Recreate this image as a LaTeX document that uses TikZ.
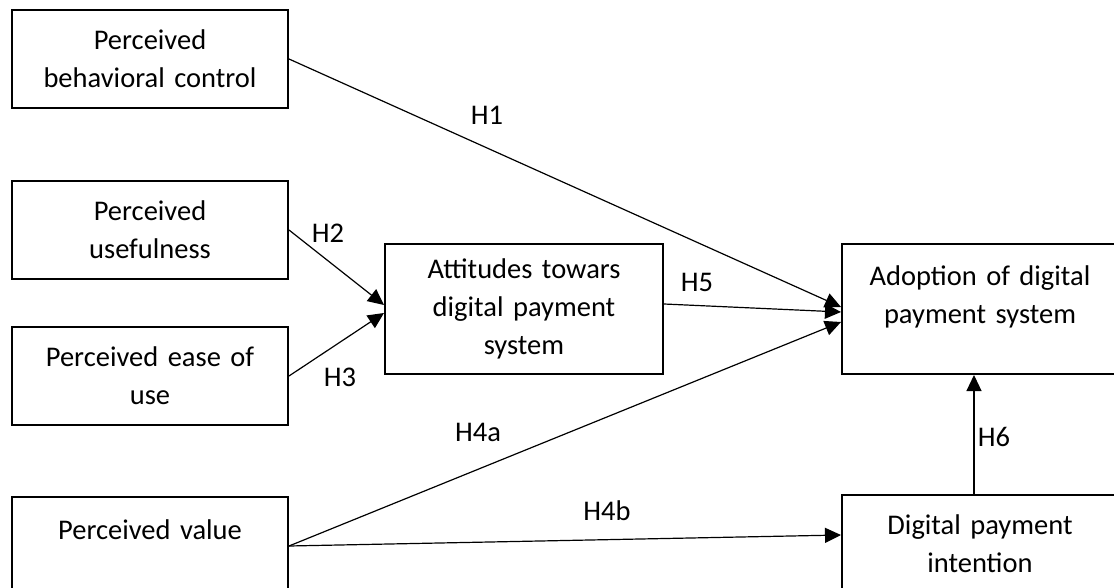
\documentclass[tikz,border=0pt]{standalone}
\usepackage{fontspec}
\setmainfont{Carlito}
\usetikzlibrary{arrows.meta,positioning}
\newcommand{\lowstrut}[1]{\rule[-#1]{0pt}{#1}}
\tikzset{
  varbox/.style={draw, line width=1pt, align=center, text width=130pt,
                 minimum width=138pt, minimum height=49pt, inner sep=0pt,
                 font=\fontsize{14.25}{19}\selectfont},
  bigbox/.style={varbox, minimum width=139pt, minimum height=65pt},
  hyparrow/.style={-{Triangle[length=8pt,width=7.5pt]}, line width=0.6pt},
  hyp/.style={inner sep=0pt, font=\fontsize{14.25}{19}\selectfont}
}

\begin{document}
\begin{tikzpicture}[x=0.5pt, y=-0.5pt]
  \useasboundingbox (0,0) rectangle (1114,588);
  % left column
  \node[varbox, anchor=north west] (pbc) at (11,9) {Perceived\\behavioral control};
  \node[varbox, below=35.5pt of pbc] (pu) {Perceived\\usefulness};
  \node[varbox, below=23pt of pu] (peu) {Perceived ease of\\use};
  \node[varbox, below=35pt of peu] (pv) {Perceived value\lowstrut{16pt}};
  % middle and right
  \node[bigbox, anchor=north west] (att) at (384,243) {Attitudes towars\\digital payment\\system};
  \node[bigbox, minimum width=138pt, right=88.5pt of att] (adopt) {Adoption of digital\\payment system\lowstrut{14.5pt}};
  \node[varbox, below=59.5pt of adopt] (dpi) {Digital payment\\intention};
  % hypotheses
  \draw[hyparrow] (pbc.east) -- ([yshift=1pt]adopt.west);
  \draw[hyparrow] (pu.east) -- ([yshift=2pt]att.west);
  \draw[hyparrow] (peu.east) -- ([yshift=-2pt]att.west);
  \draw[hyparrow] ([yshift=2.5pt]att.east) -- ([yshift=-1.5pt]adopt.west);
  \draw[hyparrow] (pv.east) -- ([yshift=-6.5pt]adopt.west);
  \draw[hyparrow] (pv.east) -- ([yshift=4.5pt]dpi.west);
  \draw[hyparrow] ([xshift=-3pt]dpi.north) -- ([xshift=-3pt]adopt.south);
  \node[hyp] (h1) at (487,115) {H1};
  \node[hyp] (h2) at (328,233) {H2};
  \node[hyp] (h3) at (340,377) {H3};
  \node[hyp] (h4a) at (478,432) {H4a};
  \node[hyp] (h4b) at (607,511) {H4b};
  \node[hyp] (h5) at (697,282) {H5};
  \node[hyp] (h6) at (994,437) {H6};
\end{tikzpicture}
\end{document}
